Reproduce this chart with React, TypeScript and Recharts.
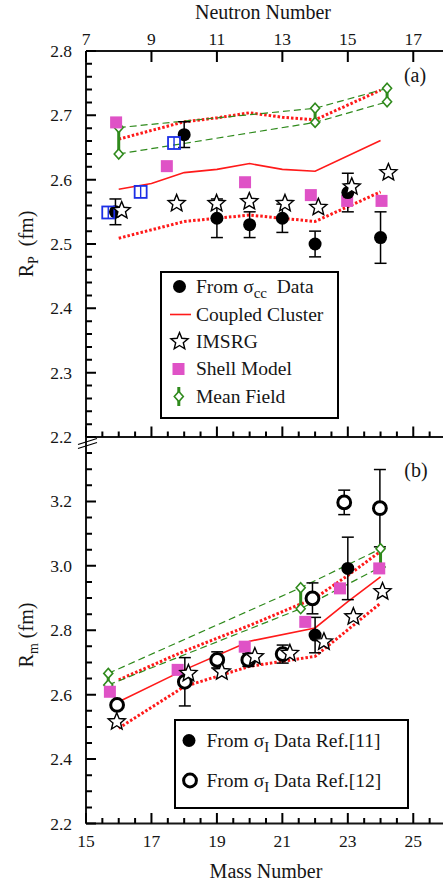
import React from 'react';
import { ComposedChart, Line, Scatter, XAxis, YAxis, ErrorBar, Legend } from 'recharts';

const FONT = '"Liberation Serif", "Times New Roman", Times, serif';
const INK = '#161616';
const RED = '#ff1a1a';
const GREEN = '#2f8a1c';
const MAGENTA = '#df52c6';
const BLUE = '#1c2fe6';

// ---------- panel (a): R_P vs neutron number ----------
const N_DOMAIN = [7, 18];
const RP_DOMAIN = [2.2, 2.8];
const N_MAJOR = [7, 9, 11, 13, 15, 17];
const RP_MAJOR = [2.2, 2.3, 2.4, 2.5, 2.6, 2.7, 2.8];

const DATA_N = [7.9, 10, 11, 12, 13, 14, 15, 16];
const DATA_RP = [2.55, 2.67, 2.54, 2.53, 2.54, 2.5, 2.58, 2.51];
const DATA_RP_ERR = [0.02, 0.02, 0.03, 0.02, 0.022, 0.02, 0.03, 0.04];

const CC_N = [8, 9, 10, 11, 12, 13, 14, 16];
const CC_RP = [2.585, 2.594, 2.611, 2.616, 2.625, 2.616, 2.613, 2.661];
const CCU_N = [8, 10, 11, 12, 13, 14, 16];
const CCU_RP = [2.663, 2.69, 2.696, 2.704, 2.697, 2.693, 2.739];
const CCL_N = [8, 10, 11, 12, 13, 14, 16];
const CCL_RP = [2.509, 2.535, 2.54, 2.545, 2.54, 2.535, 2.581];

const IM_N = [8.09, 9.77, 10.99, 11.99, 13.08, 14.1, 15.12, 16.24];
const IM_RP = [2.552, 2.563, 2.563, 2.566, 2.563, 2.557, 2.589, 2.611];

const SM_N = [7.92, 9.47, 11.86, 13.87, 14.98, 16.03];
const SM_RP = [2.689, 2.621, 2.596, 2.576, 2.567, 2.567];

const MF_N = [8, 14, 16.2];
const MF_RP_HI = [2.681, 2.711, 2.742];
const MF_RP_LO = [2.64, 2.689, 2.721];

const EXP_N = [7.68, 8.67, 9.69];
const EXP_RP = [2.549, 2.581, 2.657];

// ---------- panel (b): R_m vs mass number ----------
const A_DOMAIN = [15, 26];
const RM_DOMAIN = [2.2, 3.4];
const A_MAJOR = [15, 17, 19, 21, 23, 25];
const RM_MAJOR = [2.2, 2.4, 2.6, 2.8, 3.0, 3.2];

const R11_A = [22, 23];
const R11_RM = [2.785, 2.992];
const R11_ERR = [0.055, 0.097];

const R12_A = [15.95, 18.02, 19.01, 19.96, 21.01, 21.92, 22.89, 23.98];
const R12_RM = [2.568, 2.64, 2.708, 2.708, 2.726, 2.899, 3.197, 3.179];
const R12_ERR = [0, 0.075, 0.025, 0.02, 0.028, 0.048, 0.038, 0.12];

const CCM_A = [16, 18, 20, 22, 23, 24];
const CCM_RM = [2.578, 2.677, 2.766, 2.807, 2.889, 2.966];
const CCMU_A = [16, 18, 20, 22, 23, 24];
const CCMU_RM = [2.646, 2.735, 2.815, 2.9, 2.97, 3.045];
const CCML_A = [16, 18, 20, 22, 24];
const CCML_RM = [2.496, 2.625, 2.688, 2.719, 2.884];

const IMM_A = [15.94, 18.13, 19.15, 20.16, 21.23, 22.27, 23.17, 24.06];
const IMM_RM = [2.516, 2.666, 2.671, 2.718, 2.728, 2.764, 2.842, 2.92];

const SMM_A = [15.73, 17.8, 19.85, 21.7, 22.76, 23.96];
const SMM_RM = [2.609, 2.677, 2.749, 2.826, 2.93, 2.992];

const MFM_A = [15.68, 21.56, 24.0];
const MFM_RM_HI = [2.666, 2.932, 3.053];
const MFM_RM_LO = [2.63, 2.867, 2.996];

// ---------- helpers ----------
type Pt = { x: number; y: number; e: number };
const pts = (xs: number[], ys: number[], es?: number[]): Pt[] =>
  xs.map((x, i) => ({ x, y: ys[i], e: es ? es[i] : 0 }));
const spans = (xs: number[], hi: number[], lo: number[]): Pt[] =>
  xs.map((x, i) => ({ x, y: (hi[i] + lo[i]) / 2, e: (hi[i] - lo[i]) / 2 }));
const seq = (a: number, b: number, s: number) =>
  Array.from({ length: Math.round((b - a) / s) + 1 }, (_, i) => +(a + i * s).toFixed(4));

const N_TICKS = seq(7, 18, 0.5);
const RP_TICKS = seq(2.2, 2.8, 0.02);
const A_TICKS = seq(15, 26, 0.5);
const RM_TICKS = seq(2.2, 3.35, 0.05);
const near = (v: number, list: number[]) => list.some((m) => Math.abs(m - v) < 1e-6);

const tickText = { fontFamily: FONT, fontSize: 17.5, fill: INK };

function starPath(cx: number, cy: number, Ro: number, r: number) {
  let d = '';
  for (let i = 0; i < 10; i++) {
    const rad = i % 2 === 0 ? Ro : r;
    const a = -Math.PI / 2 + (i * Math.PI) / 5;
    d += (i === 0 ? 'M' : 'L') + (cx + rad * Math.cos(a)).toFixed(2) + ',' + (cy + rad * Math.sin(a)).toFixed(2);
  }
  return d + 'Z';
}

const FilledCircle = (p: any) => <circle cx={p.cx} cy={p.cy} r={6.5} fill="#000" />;
const OpenCircle = (p: any) => <circle cx={p.cx} cy={p.cy} r={6.4} fill="#fff" stroke="#000" strokeWidth={3} />;
const Star = (p: any) => (
  <path d={starPath(p.cx, p.cy, 9, 4)} fill="#fff" stroke="#000" strokeWidth={1.4} strokeLinejoin="miter" />
);
const MagSquare = (p: any) => <rect x={p.cx - 6} y={p.cy - 6} width={12} height={12} fill={MAGENTA} />;
const BlueSquare = (p: any) => (
  <g>
    <rect x={p.cx - 6} y={p.cy - 6} width={12} height={12} fill="none" stroke={BLUE} strokeWidth={1.8} />
    <line x1={p.cx} y1={p.cy - 6} x2={p.cx} y2={p.cy + 6} stroke={BLUE} strokeWidth={1.4} />
  </g>
);
const Diamond = (p: any) => (
  <path
    d={`M${p.cx},${p.cy - 5} L${p.cx + 4.5},${p.cy} L${p.cx},${p.cy + 5} L${p.cx - 4.5},${p.cy} Z`}
    fill="#fff"
    stroke={GREEN}
    strokeWidth={1.6}
  />
);
const NoShape = () => <g />;
const EmptyTick = () => <g />;

const bottomLabel = (p: any) => (
  <text x={p.x} y={p.y + 23.5} textAnchor="middle" {...tickText}>
    {p.payload.value}
  </text>
);
const topLabel = (p: any) => (
  <text x={p.x} y={p.y - 6} textAnchor="middle" {...tickText}>
    {p.payload.value}
  </text>
);
const leftLabel = (p: any) => (
  <text x={p.x - 14} y={p.y + 6} textAnchor="end" {...tickText}>
    {Number(p.payload.value).toFixed(1)}
  </text>
);

// Frame tick marks (inward) as one path per panel, in an overlay above both panels
type Area = { x: number; y: number; width: number; height: number };
const PLOT_A_PAGE: Area = { x: 86, y: 51, width: 360, height: 386 };
const PLOT_B_PAGE: Area = { x: 86, y: 437, width: 360, height: 386.5 };

function frameTickPath(
  area: Area, xDomain: number[], yDomain: number[],
  xTicks: number[], xMajor: number[], yTicks: number[], yMajor: number[], topMajor: number[]
) {
  const x0 = xDomain[0], x1 = xDomain[1];
  const y0 = yDomain[0], y1 = yDomain[1];
  const sx = (v: number) => area.x + ((v - x0) / (x1 - x0)) * area.width;
  const sy = (v: number) => area.y + area.height - ((v - y0) / (y1 - y0)) * area.height;
  const bottom = area.y + area.height;
  let d = '';
  for (const v of xTicks) {
    const len = near(v, xMajor) ? 10.5 : 5.5;
    d += `M${sx(v).toFixed(2)},${bottom.toFixed(2)}V${(bottom - len).toFixed(2)}`;
  }
  for (const v of topMajor) {
    d += `M${sx(v).toFixed(2)},${area.y.toFixed(2)}V${(area.y + 11).toFixed(2)}`;
  }
  for (const v of yTicks) {
    const len = near(v, yMajor) ? 10 : 6;
    d += `M${area.x.toFixed(2)},${sy(v).toFixed(2)}H${(area.x + len).toFixed(2)}`;
  }
  return d;
}

const axisLine = { stroke: INK, strokeWidth: 2 };
const titleText = { fontFamily: FONT, fontSize: 20, fill: INK };
const legendText = { fontFamily: FONT, fontSize: 19.5, fill: INK };

const TopLegend = () => (
  <svg width={180} height={149} style={{ display: 'block' }}>
    <rect x={1} y={1} width={177} height={146} fill="#fff" stroke="#000" strokeWidth={2} />
    <FilledCircle cx={19.5} cy={15.5} />
    <text x={36} y={21.5} {...legendText}>
      From σ<tspan dy={5} fontSize={15}>cc</tspan>
      <tspan dy={-5}>{'\u00a0\u00a0Data'}</tspan>
    </text>
    <line x1={10} y1={43.5} x2={31} y2={43.5} stroke={RED} strokeWidth={1.6} />
    <text x={36} y={49.5} {...legendText}>Coupled Cluster</text>
    <Star cx={19.5} cy={70.5} />
    <text x={36} y={76.5} {...legendText}>IMSRG</text>
    <MagSquare cx={18.5} cy={98} />
    <text x={36} y={104} {...legendText}>Shell Model</text>
    <line x1={18.8} y1={116} x2={18.8} y2={135} stroke={GREEN} strokeWidth={3} />
    <Diamond cx={18.8} cy={125.5} />
    <text x={36} y={131.5} {...legendText}>Mean Field</text>
  </svg>
);

const BottomLegend = () => (
  <svg width={236} height={91} style={{ display: 'block' }}>
    <rect x={1} y={1} width={233} height={88} fill="#fff" stroke="#000" strokeWidth={2} />
    <FilledCircle cx={15} cy={21.5} />
    <text x={32.5} y={27.5} {...legendText}>
      From σ<tspan dy={5} fontSize={15}>I</tspan>
      <tspan dy={-5}>{' Data Ref.[11]'}</tspan>
    </text>
    <OpenCircle cx={16} cy={61.5} />
    <text x={32.5} y={67.5} {...legendText}>
      From σ<tspan dy={5} fontSize={15}>I</tspan>
      <tspan dy={-5}>{' Data Ref.[12]'}</tspan>
    </text>
  </svg>
);

const lineBase = { dot: false as const, activeDot: false as const, isAnimationActive: false, legendType: 'none' as const, type: 'linear' as const };
const solidRed = { stroke: RED, strokeWidth: 1.6 };
const dottedRed = { stroke: RED, strokeWidth: 3, strokeDasharray: '2.5 2' };
const dashedGreen = { stroke: GREEN, strokeWidth: 1.2, strokeDasharray: '7 4' };

export default function App() {
  const ticksA = frameTickPath(PLOT_A_PAGE, N_DOMAIN, RP_DOMAIN, N_TICKS, N_MAJOR, RP_TICKS, RP_MAJOR, N_MAJOR);
  const ticksB = frameTickPath(PLOT_B_PAGE, A_DOMAIN, RM_DOMAIN, A_TICKS, A_MAJOR, RM_TICKS, RM_MAJOR, []);
  return (
    <div style={{ position: 'absolute', left: 0, top: 0, width: 443, height: 886, overflow: 'hidden', background: '#fff' }}>
      <div style={{ position: 'absolute', left: 0, top: 0 }}>
        <ComposedChart width={450} height={460} margin={{ top: 0, right: 4, bottom: 0, left: 0 }}>
          <XAxis
            dataKey="x"
            type="number"
            domain={N_DOMAIN}
            allowDataOverflow
            ticks={N_MAJOR}
            interval={0}
            tick={EmptyTick}
            tickLine={false}
            tickSize={0}
            tickMargin={0}
            axisLine={axisLine}
            height={23}
          />
          <XAxis
            xAxisId="t"
            orientation="top"
            dataKey="x"
            type="number"
            domain={N_DOMAIN}
            allowDataOverflow
            ticks={N_MAJOR}
            interval={0}
            tick={topLabel}
            tickLine={false}
            tickSize={0}
            tickMargin={0}
            axisLine={axisLine}
            height={51}
            label={() => (
              <text x={263} y={19} textAnchor="middle" {...titleText}>
                Neutron Number
              </text>
            )}
          />
          <YAxis
            type="number"
            domain={RP_DOMAIN}
            allowDataOverflow
            ticks={RP_MAJOR}
            interval={0}
            tick={leftLabel}
            tickLine={false}
            tickSize={0}
            tickMargin={0}
            axisLine={axisLine}
            width={86}
            label={() => (
              <text transform="translate(33,244) rotate(-90)" textAnchor="middle" {...titleText}>
                R<tspan dy={5} fontSize={14}>P</tspan>
                <tspan dy={-5}>{'\u00a0\u00a0(fm)'}</tspan>
              </text>
            )}
          />
          <Line data={pts(CCU_N, CCU_RP)} dataKey="y" {...lineBase} {...dottedRed} />
          <Line data={pts(CCL_N, CCL_RP)} dataKey="y" {...lineBase} {...dottedRed} />
          <Line data={pts(CC_N, CC_RP)} dataKey="y" {...lineBase} {...solidRed} />
          <Line data={pts(MF_N, MF_RP_HI)} dataKey="y" {...lineBase} {...dashedGreen} />
          <Line data={pts(MF_N, MF_RP_LO)} dataKey="y" {...lineBase} {...dashedGreen} />
          <Scatter data={spans(MF_N, MF_RP_HI, MF_RP_LO)} dataKey="y" shape={NoShape} isAnimationActive={false} legendType="none">
            <ErrorBar dataKey="e" direction="y" width={0} stroke={GREEN} strokeWidth={3} />
          </Scatter>
          <Scatter data={pts(MF_N, MF_RP_HI)} dataKey="y" shape={Diamond} isAnimationActive={false} legendType="none" />
          <Scatter data={pts(MF_N, MF_RP_LO)} dataKey="y" shape={Diamond} isAnimationActive={false} legendType="none" />
          <Scatter data={pts(SM_N, SM_RP)} dataKey="y" shape={MagSquare} isAnimationActive={false} legendType="none" />
          <Scatter data={pts(DATA_N, DATA_RP, DATA_RP_ERR)} dataKey="y" shape={FilledCircle} isAnimationActive={false} legendType="none">
            <ErrorBar dataKey="e" direction="y" width={6} stroke="#000" strokeWidth={1.5} />
          </Scatter>
          <Scatter data={pts(EXP_N, EXP_RP)} dataKey="y" shape={BlueSquare} isAnimationActive={false} legendType="none" />
          <Scatter data={pts(IM_N, IM_RP)} dataKey="y" shape={Star} isAnimationActive={false} legendType="none" />
          <Legend
            layout="vertical"
            align="center"
            verticalAlign="middle"
            wrapperStyle={{ position: 'absolute', left: 160, top: 271, width: 180, height: 149, margin: 0, padding: 0 }}
            content={() => <TopLegend />}
          />
          <text x={415} y={82} textAnchor="middle" {...titleText}>(a)</text>
        </ComposedChart>
      </div>
      <div style={{ position: 'absolute', left: 0, top: 400 }}>
        <ComposedChart width={450} height={486} margin={{ top: 37, right: 4, bottom: 0, left: 0 }}>
          <XAxis
            dataKey="x"
            type="number"
            domain={A_DOMAIN}
            allowDataOverflow
            ticks={A_MAJOR}
            interval={0}
            tick={bottomLabel}
            tickLine={false}
            tickSize={0}
            tickMargin={0}
            axisLine={axisLine}
            height={62.5}
            label={() => (
              <text x={266} y={478} textAnchor="middle" {...titleText}>
                Mass Number
              </text>
            )}
          />
          <YAxis
            type="number"
            domain={RM_DOMAIN}
            allowDataOverflow
            ticks={RM_MAJOR}
            interval={0}
            tick={leftLabel}
            tickLine={false}
            tickSize={0}
            tickMargin={0}
            axisLine={axisLine}
            width={86}
            label={() => (
              <text transform="translate(33,235) rotate(-90)" textAnchor="middle" {...titleText}>
                R<tspan dy={5} fontSize={14}>m</tspan>
                <tspan dy={-5}>{'\u00a0(fm)'}</tspan>
              </text>
            )}
          />
          <Line data={pts(CCMU_A, CCMU_RM)} dataKey="y" {...lineBase} {...dottedRed} />
          <Line data={pts(CCML_A, CCML_RM)} dataKey="y" {...lineBase} {...dottedRed} />
          <Line data={pts(CCM_A, CCM_RM)} dataKey="y" {...lineBase} {...solidRed} />
          <Line data={pts(MFM_A, MFM_RM_HI)} dataKey="y" {...lineBase} {...dashedGreen} />
          <Line data={pts(MFM_A, MFM_RM_LO)} dataKey="y" {...lineBase} {...dashedGreen} />
          <Scatter data={spans(MFM_A, MFM_RM_HI, MFM_RM_LO)} dataKey="y" shape={NoShape} isAnimationActive={false} legendType="none">
            <ErrorBar dataKey="e" direction="y" width={0} stroke={GREEN} strokeWidth={3} />
          </Scatter>
          <Scatter data={pts(MFM_A, MFM_RM_HI)} dataKey="y" shape={Diamond} isAnimationActive={false} legendType="none" />
          <Scatter data={pts(MFM_A, MFM_RM_LO)} dataKey="y" shape={Diamond} isAnimationActive={false} legendType="none" />
          <Scatter data={pts(SMM_A, SMM_RM)} dataKey="y" shape={MagSquare} isAnimationActive={false} legendType="none" />
          <Scatter data={pts(R12_A, R12_RM, R12_ERR)} dataKey="y" shape={OpenCircle} isAnimationActive={false} legendType="none">
            <ErrorBar dataKey="e" direction="y" width={6} stroke="#000" strokeWidth={1.5} />
          </Scatter>
          <Scatter data={pts(R11_A, R11_RM, R11_ERR)} dataKey="y" shape={FilledCircle} isAnimationActive={false} legendType="none">
            <ErrorBar dataKey="e" direction="y" width={6} stroke="#000" strokeWidth={1.5} />
          </Scatter>
          <Scatter data={pts(IMM_A, IMM_RM)} dataKey="y" shape={Star} isAnimationActive={false} legendType="none" />
          <Legend
            layout="vertical"
            align="center"
            verticalAlign="middle"
            wrapperStyle={{ position: 'absolute', left: 174, top: 319, width: 236, height: 91, margin: 0, padding: 0 }}
            content={() => <BottomLegend />}
          />
          <text x={416} y={77} textAnchor="middle" {...titleText}>(b)</text>
        </ComposedChart>
      </div>
      <svg width={443} height={886} style={{ position: 'absolute', left: 0, top: 0, pointerEvents: 'none' }}>
        <path d={ticksA} stroke="#000" strokeWidth={2} fill="none" />
        <path d={ticksB} stroke="#000" strokeWidth={2} fill="none" />
        <line x1={78} y1={444.5} x2={97} y2={438.5} stroke="#000" strokeWidth={1.3} />
        <line x1={78} y1={448.5} x2={97} y2={442.5} stroke="#000" strokeWidth={1.3} />
      </svg>
    </div>
  );
}
